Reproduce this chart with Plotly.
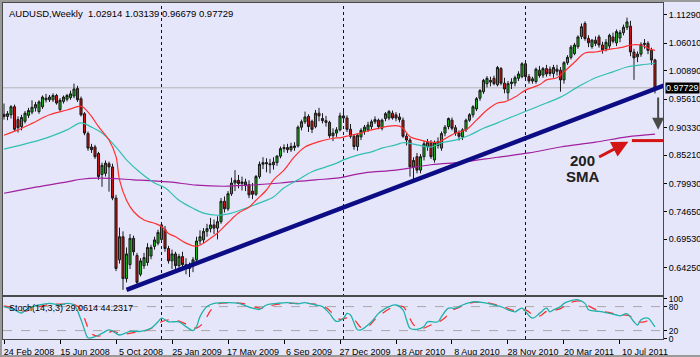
import plotly.graph_objects as go
import pandas as pd

# ---------------- data ----------------
START = "2008-02-24"
N_WEEKS = 187

opens = [0.928,0.924,0.927,0.942,0.918,0.905,0.915,0.926,0.932,0.940,
         0.933,0.942,0.958,0.955,0.955,0.963,0.937,0.952,0.956,0.959,
         0.962,0.976,0.957,0.929,0.892,0.867,0.867,0.855,0.816,0.818,
         0.836,0.830,0.772,0.657,0.700,0.622,0.648,0.697,0.665,0.630,
         0.646,0.652,0.664,0.682,0.688,0.695,0.713,0.678,0.655,0.668,
         0.646,0.663,0.648,0.641,0.646,0.657,0.692,0.694,0.710,0.715,
         0.722,0.716,0.728,0.766,0.752,0.780,0.800,0.805,0.799,0.802,
         0.797,0.785,0.779,0.812,0.835,0.838,0.836,0.834,0.838,0.850,
         0.864,0.866,0.862,0.866,0.869,0.904,0.914,0.924,0.915,0.905,
         0.930,0.920,0.916,0.913,0.888,0.893,0.899,0.925,0.921,0.900,
         0.887,0.868,0.886,0.896,0.899,0.905,0.914,0.917,0.902,0.920,
         0.921,0.930,0.927,0.923,0.917,0.887,0.880,0.830,0.849,0.824,
         0.849,0.868,0.874,0.843,0.870,0.865,0.893,0.905,0.917,0.903,
         0.893,0.886,0.899,0.917,0.927,0.938,0.958,0.970,0.985,0.988,
         0.995,0.983,1.013,0.986,0.968,0.985,0.986,0.995,0.998,1.022,
         0.998,0.990,0.989,1.010,1.001,1.013,1.012,1.004,1.012,1.010,
         0.992,1.024,1.034,1.041,1.054,1.073,1.097,1.069,1.054,1.066,
         1.072,1.057,1.050,1.055,1.072,1.061,1.070,1.080,1.090,1.092,
         1.044,1.035,1.040,1.058,1.060,1.047,1.02914]
highs = [0.948,0.934,0.945,0.946,0.924,0.927,0.934,0.940,0.954,0.951,
         0.954,0.963,0.966,0.964,0.967,0.966,0.958,0.963,0.966,0.972,
         0.985,0.981,0.961,0.932,0.896,0.873,0.871,0.858,0.838,0.842,
         0.840,0.836,0.778,0.717,0.710,0.680,0.705,0.702,0.670,0.660,
         0.670,0.688,0.685,0.700,0.713,0.726,0.720,0.683,0.676,0.672,
         0.668,0.672,0.660,0.652,0.662,0.700,0.712,0.716,0.724,0.735,
         0.732,0.738,0.772,0.775,0.785,0.810,0.824,0.815,0.812,0.808,
         0.805,0.800,0.815,0.840,0.848,0.846,0.845,0.848,0.852,0.868,
         0.872,0.873,0.875,0.876,0.907,0.918,0.933,0.928,0.918,0.936,
         0.940,0.930,0.925,0.916,0.902,0.904,0.931,0.936,0.926,0.910,
         0.890,0.892,0.902,0.908,0.914,0.918,0.924,0.920,0.920,0.932,
         0.936,0.935,0.932,0.930,0.922,0.892,0.884,0.848,0.856,0.854,
         0.878,0.882,0.880,0.879,0.885,0.896,0.908,0.922,0.922,0.908,
         0.898,0.902,0.920,0.930,0.945,0.960,0.975,0.994,0.999,0.998,
         1.000,1.018,1.016,0.996,0.990,0.995,1.000,1.008,1.025,1.026,
         1.003,0.998,1.015,1.018,1.016,1.020,1.017,1.020,1.020,1.016,
         1.027,1.038,1.057,1.061,1.075,1.097,1.101,1.075,1.068,1.073,
         1.076,1.063,1.068,1.078,1.080,1.086,1.085,1.095,1.108,1.102,
         1.050,1.045,1.062,1.068,1.064,1.052,1.03139]
lows = [0.918,0.917,0.920,0.897,0.894,0.898,0.911,0.921,0.928,0.933,
        0.929,0.938,0.950,0.951,0.951,0.946,0.933,0.948,0.952,0.955,
        0.958,0.951,0.924,0.889,0.860,0.856,0.845,0.806,0.793,0.812,
        0.784,0.768,0.636,0.650,0.601,0.615,0.640,0.665,0.611,0.626,
        0.640,0.646,0.658,0.676,0.684,0.690,0.672,0.650,0.640,0.640,
        0.636,0.640,0.630,0.625,0.634,0.652,0.686,0.688,0.700,0.708,
        0.705,0.695,0.724,0.745,0.748,0.776,0.785,0.790,0.786,0.785,
        0.772,0.770,0.776,0.808,0.826,0.820,0.818,0.825,0.832,0.846,
        0.857,0.856,0.858,0.860,0.866,0.898,0.910,0.895,0.893,0.902,
        0.915,0.911,0.905,0.884,0.878,0.886,0.896,0.917,0.895,0.883,
        0.862,0.860,0.880,0.890,0.895,0.900,0.910,0.900,0.898,0.915,
        0.917,0.918,0.915,0.913,0.884,0.870,0.812,0.806,0.818,0.818,
        0.842,0.860,0.845,0.838,0.864,0.860,0.887,0.900,0.898,0.888,
        0.879,0.880,0.895,0.914,0.922,0.934,0.953,0.966,0.978,0.980,
        0.982,0.980,0.982,0.967,0.955,0.975,0.980,0.990,0.995,0.995,
        0.985,0.985,0.985,0.996,0.996,0.998,0.999,0.996,1.000,0.970,
        0.985,1.020,1.030,1.038,1.050,1.068,1.065,1.053,1.050,1.055,
        1.052,1.041,1.045,1.050,1.060,1.055,1.062,1.075,1.085,1.036,
        0.992,1.025,1.035,1.050,1.040,1.020,0.96679]
closes = [0.924,0.929,0.942,0.900,0.903,0.922,0.930,0.935,0.941,0.946,
          0.951,0.960,0.955,0.960,0.963,0.949,0.954,0.960,0.963,0.966,
          0.975,0.955,0.927,0.893,0.865,0.862,0.849,0.812,0.833,0.837,
          0.830,0.772,0.641,0.700,0.622,0.668,0.697,0.672,0.615,0.655,
          0.661,0.680,0.680,0.694,0.708,0.722,0.678,0.655,0.668,0.646,
          0.663,0.648,0.641,0.646,0.657,0.692,0.700,0.710,0.715,0.722,
          0.716,0.728,0.766,0.752,0.780,0.800,0.805,0.799,0.802,0.795,
          0.778,0.779,0.812,0.835,0.838,0.836,0.834,0.839,0.850,0.864,
          0.866,0.862,0.868,0.869,0.904,0.914,0.923,0.905,0.900,0.930,
          0.925,0.916,0.913,0.888,0.893,0.899,0.925,0.921,0.900,0.887,
          0.868,0.889,0.898,0.904,0.908,0.914,0.918,0.905,0.917,0.929,
          0.933,0.921,0.921,0.918,0.887,0.880,0.830,0.842,0.824,0.849,
          0.873,0.876,0.849,0.876,0.877,0.892,0.904,0.920,0.902,0.893,
          0.887,0.899,0.917,0.927,0.942,0.957,0.972,0.991,0.995,0.991,
          0.985,1.015,0.986,0.975,0.985,0.988,0.996,1.003,1.022,0.998,
          0.990,0.994,1.012,1.000,1.013,1.003,1.004,1.015,1.008,0.992,
          1.024,1.034,1.053,1.057,1.072,1.091,1.069,1.061,1.066,1.060,
          1.057,1.048,1.062,1.075,1.064,1.082,1.080,1.090,1.100,1.044,
          1.033,1.040,1.058,1.060,1.047,1.029,0.97729]

# moving averages (week index, price)
ema_red_week = [0,4,8,13,18,22,23,25,27,30,32,33,35,37,40,43,45,47,49,52,55,
                57,59,61,64,67,70,72,75,77,80,83,86,90,93,95,96,99,102,105,
                107,110,113,114,116,119,122,124,127,129,132,135,138,141,143,
                146,149,153,155,158,160,163,166,169,172,175,177,179,182,184,186]
ema_red_val = [0.889,0.899,0.911,0.927,0.936,0.943,0.939,0.924,0.905,0.880,0.849,
               0.806,0.768,0.747,0.731,0.725,0.719,0.706,0.700,0.688,0.682,
               0.688,0.697,0.707,0.726,0.744,0.755,0.768,0.787,0.806,0.824,
               0.849,0.867,0.877,0.882,0.884,0.884,0.889,0.893,0.899,0.902,
               0.906,0.906,0.902,0.886,0.880,0.876,0.876,0.886,0.893,0.899,
               0.917,0.936,0.949,0.951,0.960,0.973,0.983,0.992,0.996,1.007,
               1.025,1.042,1.044,1.048,1.051,1.053,1.057,1.057,1.051,1.047]
ema_cyan_week = [0,8,13,18,22,25,28,32,35,39,43,46,50,54,57,61,65,69,73,77,80,84,
                 88,92,95,97,101,105,108,112,114,118,122,125,129,133,137,141,
                 145,150,155,159,164,169,174,178,182,186]
ema_cyan_val = [0.863,0.876,0.886,0.899,0.912,0.904,0.893,0.867,0.843,0.819,0.800,
                0.791,0.768,0.753,0.744,0.740,0.744,0.753,0.763,0.774,0.791,0.806,
                0.821,0.830,0.837,0.843,0.852,0.858,0.865,0.871,0.875,0.871,0.867,
                0.875,0.880,0.889,0.902,0.912,0.923,0.936,0.949,0.960,0.979,0.996,
                1.007,1.016,1.020,1.023]
sma200_week = [0,8,18,22,27,37,47,55,63,70,79,89,95,103,112,122,131,141,150,159,
               169,178,186]
sma200_val = [0.781,0.791,0.802,0.807,0.809,0.806,0.802,0.796,0.794,0.796,0.800,
              0.806,0.809,0.819,0.824,0.834,0.839,0.848,0.856,0.867,0.876,0.886,
              0.891]

stoch_main_week = [0,3,5,7,10,13,16,18,20,22,23,24,26,28,30,32,33,36,39,42,44,45,
                   47,50,52,54,55,56,58,60,64,67,71,73,75,78,81,84,86,89,91,93,95,
                   97,98,99,101,102,105,107,108,110,112,114,115,116,118,120,121,
                   124,125,127,129,131,133,134,137,140,142,144,146,147,148,151,
                   153,155,156,157,159,160,162,164,166,167,169,171,173,175,176,
                   178,180,181,182,184,185,186]
stoch_main_val = [80,72,64,76,84,88,84,88,84,47,22,2,5,13,22,13,9,18,18,26,42,51,
                  42,42,30,20,30,55,80,88,90,88,76,73,84,88,90,87,90,84,80,63,43,
                  51,63,59,22,22,42,63,70,80,84,72,47,26,23,30,42,
                  42,55,76,76,84,90,92,90,84,80,72,67,72,76,51,
                  63,76,67,72,80,88,95,97,88,72,69,67,63,59,57,
                  62,42,34,47,51,42,29.06]
stoch_sig_week = [0,3,6,8,11,14,17,20,22,23,25,27,29,31,33,35,37,40,43,45,47,50,
                  53,55,57,59,61,65,68,72,74,77,80,83,86,89,92,94,96,98,100,102,
                  104,106,108,110,112,114,116,117,119,122,124,126,128,130,132,
                  135,138,141,143,145,147,149,151,153,155,157,159,161,163,165,
                  167,169,171,173,175,177,179,181,183,185,186]
stoch_sig_val = [82,76,68,74,82,86,86,86,72,50,12,6,12,18,14,12,15,18,30,42,47,44,
                 32,26,40,70,86,89,88,78,76,84,88,88,88,86,78,62,48,52,48,28,
                 30,48,62,74,80,80,50,35,25,34,40,52,70,78,86,
                 91,90,84,79,72,70,72,60,56,68,70,75,85,93,93,
                 82,73,68,65,61,59,56,42,42,48,44.23]

price_ticks = [1.11290, 1.06010, 1.00890, 0.95610, 0.90330, 0.85210,
               0.79930, 0.74650, 0.69530, 0.64250, 0.59130]
date_tick_weeks = [0, 16, 32, 48, 64, 80, 96, 112, 128, 144, 160, 176]
separator_weeks = [45, 97, 149]
trend_weeks = [35, 189]
trend_vals = [0.601, 0.9825]
last_price = 0.97729
ohlc_text = "AUDUSD,Weekly  1.02914 1.03139 0.96679 0.97729"
stoch_text = "Stoch(14,3,3) 29.0614 44.2317"

# ---------------- helpers ----------------
start = pd.Timestamp(START)
def wk(w):
    return start + pd.Timedelta(weeks=w)

week_dates = [wk(i) for i in range(N_WEEKS)]
xr = [wk(-0.29), wk(188.29)]

BG = "#E6E6FA"
FONT = "Liberation Sans"

fig = go.Figure()
fig.add_trace(go.Candlestick(
    x=week_dates, open=opens, high=highs, low=lows, close=closes,
    increasing=dict(line=dict(color="#1a1a1a", width=1), fillcolor="#14b014"),
    decreasing=dict(line=dict(color="#1a1a1a", width=1), fillcolor="#c81010"),
    whiskerwidth=0, xaxis="x", yaxis="y", hoverinfo="skip"))

def line_trace(weeks, vals, color, width=1, shape="spline", dash=None, xa="x", ya="y"):
    return go.Scatter(x=[wk(w) for w in weeks], y=vals, mode="lines",
                      line=dict(color=color, width=width, shape=shape, dash=dash),
                      xaxis=xa, yaxis=ya, hoverinfo="skip")

fig.add_trace(line_trace(sma200_week, sma200_val, "#a020a0", 1.2))
fig.add_trace(line_trace(ema_cyan_week, ema_cyan_val, "#30c0b0", 1.2))
fig.add_trace(line_trace(ema_red_week, ema_red_val, "#ff3030", 1.2))
fig.add_trace(line_trace(trend_weeks, trend_vals, "#0c0c84", 4.5, shape="linear"))

fig.add_trace(line_trace(stoch_sig_week, stoch_sig_val, "#ff2a2a", 1.2, dash="dash", xa="x2", ya="y2"))
fig.add_trace(line_trace(stoch_main_week, stoch_main_val, "#20b2aa", 1.3, xa="x2", ya="y2"))

shapes = []
shapes.append(dict(type="line", xref="x domain", x0=0, x1=1, yref="y", y0=last_price, y1=last_price,
                   line=dict(color="#b4b4b4", width=1), layer="below"))
for s in separator_weeks:
    shapes.append(dict(type="line", xref="x", x0=wk(s), x1=wk(s), yref="paper", y0=0, y1=1,
                       line=dict(color="#101010", width=1, dash="dot"), layer="below"))
for lv in (20, 80):
    shapes.append(dict(type="line", xref="x2 domain", x0=0, x1=1, yref="y2", y0=lv, y1=lv,
                       line=dict(color="#a8a8a8", width=1, dash="dash"), layer="below"))
shapes.append(dict(type="line", xref="x", x0=wk(179.4), x1=wk(188.29), yref="y", y0=0.879, y1=0.879,
                   line=dict(color="#d41414", width=3)))
shapes.append(dict(type="rect", xref="paper", yref="paper",
                   x0=-2/660, x1=698/660, y0=-17/336, y1=338/336,
                   line=dict(color="#9a9a9a", width=2)))

annotations = [
    dict(xref="paper", yref="paper", x=0, y=1, xanchor="left", yanchor="top", xshift=4, yshift=-3,
         text=ohlc_text, showarrow=False, font=dict(family=FONT, size=9.5, color="black")),
    dict(xref="paper", yref="y2 domain", x=0, y=1, xanchor="left", yanchor="top", xshift=4, yshift=-4,
         text=stoch_text, showarrow=False, font=dict(family=FONT, size=9, color="black")),
    dict(xref="paper", x=1, xanchor="left", xshift=2, yref="y", y=last_price, text=f"{last_price:.5f}",
         showarrow=False, bgcolor="black", font=dict(family=FONT, size=9, color="white"), borderpad=0),
    dict(xref="x", yref="y", x=wk(165.4), y=0.842, text="<b>200</b>", showarrow=False,
         font=dict(family=FONT, size=15, color="#202020")),
    dict(xref="x", yref="y", x=wk(165.4), y=0.812, text="<b>SMA</b>", showarrow=False,
         font=dict(family=FONT, size=15, color="#202020")),
    dict(xref="x", yref="y", x=wk(178.4), y=0.877, axref="x", ayref="y", ax=wk(169.6), ay=0.847,
         text="", showarrow=True, arrowhead=2, arrowsize=1.1, arrowwidth=3, arrowcolor="#d41414"),
    dict(xref="x", yref="y", x=wk(186.9), y=0.899, axref="x", ayref="y", ax=wk(186.9), ay=0.962,
         text="", showarrow=True, arrowhead=2, arrowsize=1.2, arrowwidth=2, arrowcolor="#4a4a4a"),
]

axis_common = dict(showgrid=False, zeroline=False, showline=True, linecolor="#4a4a4a",
                   linewidth=1, mirror=True, automargin=False, ticklabeloverflow="allow")
fig.update_layout(
    width=700, height=357, margin=dict(l=3, r=37, t=3, b=18),
    paper_bgcolor=BG, plot_bgcolor=BG, showlegend=False, boxgap=0.15,
    xaxis=dict(anchor="y", range=xr, showticklabels=False, ticks="",
               rangeslider=dict(visible=False), **axis_common),
    xaxis2=dict(anchor="y2", matches="x", range=xr,
                tickvals=[wk(w) for w in date_tick_weeks],
                ticktext=[f"{wk(w).day} {wk(w).strftime('%b %Y')}" for w in date_tick_weeks],
                ticks="outside", ticklen=4, tickcolor="black", ticklabelshift=25, tickangle=0,
                tickfont=dict(family=FONT, size=9, color="black"), **axis_common),
    yaxis=dict(domain=[0.131, 1], range=[0.5915, 1.1352], side="right", anchor="x",
               tickvals=price_ticks, ticktext=[f"{v:.5f}" for v in price_ticks],
               ticks="outside", ticklen=3, tickcolor="black",
               tickfont=dict(family=FONT, size=9, color="black"), **axis_common),
    yaxis2=dict(domain=[0, 0.125], range=[-1, 104], side="right", anchor="x2",
                tickvals=[0, 20, 80, 100], ticktext=["0", "20", "80", "100"],
                ticks="outside", ticklen=3, tickcolor="black",
                tickfont=dict(family=FONT, size=8.5, color="black"), **axis_common),
    shapes=shapes, annotations=annotations,
)

fig.write_html("out.html", config={"displayModeBar": False},
               post_script="document.body.style.margin='0px';document.body.style.overflow='hidden';")
